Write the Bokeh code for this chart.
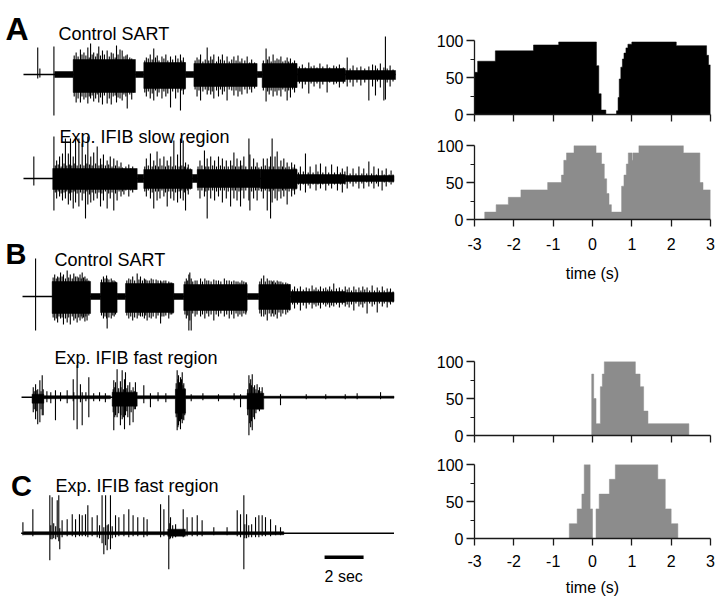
from bokeh.plotting import figure
from bokeh.layouts import row, column
from bokeh.models import Range1d, FixedTicker, Label
from bokeh.embed import file_html
from bokeh.resources import INLINE

FONT = "Liberation Sans"

# ---------------- histogram data (percent of cycles active vs time) ----------------
time_ticks = [-3, -2, -1, 0, 1, 2, 3]
time_tick_labels = ["-3", "-2", "-1", "0", "1", "2", "3"]
pct_ticks = [0, 50, 100]
pct_minor = [25, 75]

hA1_edges = [-3.0, -2.92, -2.47, -1.50, -0.86, 0.10, 0.16, 0.22, 0.34, 0.61, 0.65, 0.68,
             0.72, 0.76, 0.80, 0.85, 0.90, 1.00, 2.13, 2.90, 2.95, 3.0]
hA1_pct = [57, 72, 86, 94, 98, 66, 28, 6, 0, 5, 23, 48, 64, 75, 83, 90, 95, 98, 93, 80, 67]

hA2_edges = [-3.0, -2.74, -2.45, -2.14, -1.82, -1.14, -0.79, -0.73, -0.66, -0.47, 0.09, 0.23,
             0.30, 0.36, 0.42, 0.48, 0.74, 0.80, 0.86, 0.91, 1.01, 1.03, 1.18, 2.31, 2.73,
             2.81, 3.0]
hA2_pct = [0, 10, 20, 30, 40, 50, 60, 80, 90, 100, 90, 75, 55, 35, 20, 10, 45, 60, 75, 90,
           80, 90, 100, 90, 50, 40]

hB_edges = [-3.0, -0.02, 0.03, 0.09, 0.20, 0.25, 0.30, 1.09, 1.21, 1.30, 1.41, 2.45, 3.0]
hB_pct = [0, 83, 50, 16, 66, 83, 100, 83, 66, 33, 16, 0]

hC_edges = [-3.0, -0.59, -0.39, -0.27, -0.21, -0.06, 0.0, 0.09, 0.17, 0.43, 0.58, 1.66,
            1.85, 2.00, 2.17, 3.0]
hC_pct = [0, 20, 40, 60, 100, 40, 0, 40, 60, 80, 100, 80, 40, 20, 0]

# ---------------- trace data (time s, amplitude up / down in display units) ----------------
# bursts: (start, end, core up, core down); spikes / fill: (time, up, down)
a1_span = [0.0, 19.08]
a1_bursts = [(1.6, 2.55, 3, 3), (2.55, 5.74, 15, 18), (5.74, 6.17, 3, 3), (6.17, 8.31, 12, 14),
             (8.31, 8.74, 3, 3), (8.74, 11.98, 11, 12), (11.98, 12.24, 3, 3),
             (12.24, 14.03, 11, 13), (14.03, 16.5, 6, 7), (16.5, 19.08, 4, 5)]
a1_spikes = [(0.73, 27, 4), (0.84, 6, 3), (1.56, 28, 41), (2.7, 22, 28), (2.92, 25, 28),
             (3.1, 22, 25), (3.30, 27, 29), (3.44, 31, 24), (3.6, 22, 27), (3.86, 28, 28),
             (4.05, 24, 30), (4.29, 24, 29), (4.5, 22, 30), (4.77, 29, 28), (4.95, 25, 24),
             (5.06, 24, 26), (5.32, 20, 34), (5.55, 16, 25), (6.3, 17, 22), (6.5, 20, 24),
             (6.68, 26, 26), (6.86, 19, 22), (7.1, 18, 24), (7.3, 20, 22), (7.54, 18, 33),
             (7.8, 19, 24), (8.05, 20, 36), (8.2, 17, 20), (8.9, 17, 22), (9.08, 20, 26),
             (9.42, 27, 20), (9.6, 18, 20), (9.76, 20, 24), (10.0, 18, 22), (10.2, 20, 20),
             (10.44, 18, 26), (10.79, 18, 21), (11.0, 19, 22), (11.2, 16, 20), (11.47, 18, 19),
             (11.7, 15, 18), (12.44, 26, 27), (12.6, 18, 20), (12.8, 20, 22), (13.0, 16, 21),
             (13.2, 18, 22), (13.52, 17, 26), (13.69, 16, 23), (13.9, 14, 18), (14.3, 10, 14),
             (14.63, 12, 19), (14.9, 9, 12), (15.2, 11, 14), (15.57, 10, 18), (15.91, 9, 10),
             (16.2, 10, 13), (16.6, 17, 12), (16.9, 9, 12), (17.3, 8, 11), (17.71, 8, 26),
             (17.9, 10, 12), (18.05, 9, 21), (18.3, 11, 13), (18.48, 7, 26), (18.56, 38, 25),
             (18.8, 9, 12)]
a1_fill = [(2.6, 19, 22), (2.8, 18, 24), (3.0, 20, 22), (3.2, 19, 23), (3.37, 17, 22),
           (3.52, 20, 21), (3.7, 18, 24), (3.78, 21, 20), (3.95, 19, 23), (4.15, 20, 21),
           (4.4, 18, 24), (4.6, 21, 22), (4.7, 17, 21), (4.85, 20, 23), (5.15, 18, 20),
           (5.25, 19, 22), (5.45, 17, 20), (5.65, 14, 18), (6.22, 14, 18), (6.4, 16, 17),
           (6.6, 15, 19), (6.77, 17, 16), (6.95, 14, 18), (7.2, 16, 17), (7.4, 14, 19),
           (7.65, 15, 17), (7.92, 16, 18), (8.12, 14, 16), (8.27, 12, 15), (8.8, 14, 15),
           (9.0, 15, 16), (9.2, 13, 17), (9.32, 15, 15), (9.5, 14, 16), (9.68, 15, 17),
           (9.9, 13, 16), (10.1, 15, 15), (10.3, 14, 17), (10.55, 13, 15), (10.68, 15, 16),
           (10.9, 14, 16), (11.1, 13, 17), (11.35, 14, 15), (11.6, 12, 15), (11.85, 12, 14),
           (12.3, 14, 16), (12.52, 15, 17), (12.7, 13, 16), (12.9, 14, 17), (13.1, 15, 16),
           (13.3, 13, 15), (13.42, 14, 17), (13.6, 13, 16), (13.8, 12, 15), (13.97, 11, 13),
           (14.15, 8, 9), (14.45, 7, 10), (14.75, 8, 9), (15.05, 7, 9), (15.35, 8, 10),
           (15.7, 7, 8), (16.05, 8, 9), (16.4, 7, 9), (16.75, 6, 8), (17.1, 7, 8),
           (17.5, 6, 8), (18.15, 6, 7), (18.65, 6, 8), (18.95, 5, 7)]

a2_span = [0.0, 19.0]
a2_bursts = [(1.5, 5.83, 10, 11), (5.83, 6.17, 4, 4), (6.17, 8.65, 9, 10), (8.65, 8.91, 4, 4),
             (8.91, 12.15, 9, 9), (12.15, 14.03, 9, 10), (14.03, 16.5, 4, 5),
             (16.5, 19.0, 3, 3)]
a2_spikes = [(0.53, 22, 7), (1.56, 42, 32), (1.7, 18, 20), (1.85, 22, 18), (2.0, 25, 22),
             (2.15, 40, 20), (2.3, 25, 26), (2.41, 40, 22), (2.55, 22, 30), (2.67, 42, 24),
             (2.84, 40, 28), (3.01, 35, 22), (3.18, 24, 40), (3.30, 42, 26), (3.45, 22, 24),
             (3.6, 26, 22), (3.78, 32, 20), (3.95, 20, 28), (4.1, 24, 22), (4.29, 18, 30),
             (4.45, 22, 20), (4.63, 20, 32), (4.8, 18, 22), (5.0, 16, 18), (5.15, 10, 16),
             (5.4, 14, 18), (5.6, 12, 14), (6.3, 20, 18), (6.51, 25, 20), (6.68, 18, 30),
             (6.85, 27, 22), (7.0, 20, 20), (7.2, 22, 18), (7.37, 18, 28), (7.55, 22, 20),
             (7.71, 38, 22), (7.9, 24, 24), (8.05, 40, 20), (8.19, 38, 22), (8.31, 16, 32),
             (8.45, 14, 16), (9.05, 18, 20), (9.28, 28, 18), (9.42, 20, 40), (9.6, 22, 20),
             (9.8, 18, 22), (10.0, 22, 18), (10.2, 20, 24), (10.4, 18, 20), (10.62, 18, 28),
             (10.79, 26, 20), (10.95, 20, 22), (11.13, 18, 28), (11.3, 22, 20),
             (11.56, 40, 22), (11.61, 24, 32), (11.8, 20, 20), (11.98, 16, 22), (12.3, 20, 20),
             (12.50, 20, 32), (12.67, 22, 40), (12.75, 40, 24), (12.9, 22, 20), (13.01, 27, 22),
             (13.2, 18, 20), (13.35, 20, 18), (13.52, 16, 26), (13.75, 16, 18), (13.9, 14, 16),
             (14.2, 12, 12), (14.46, 25, 14), (14.7, 12, 10), (15.0, 14, 12), (15.23, 15, 10),
             (15.5, 12, 12), (15.8, 14, 10), (16.1, 12, 12), (16.35, 10, 14), (16.6, 12, 10),
             (16.9, 10, 8), (17.2, 12, 10), (17.45, 10, 10), (17.71, 17, 8), (17.97, 12, 10),
             (18.2, 10, 8), (18.39, 8, 12), (18.6, 10, 8), (18.85, 8, 6)]
a2_fill = [(1.63, 13, 14), (1.78, 14, 13), (1.93, 12, 15), (2.08, 15, 14), (2.22, 13, 13),
           (2.35, 14, 15), (2.48, 13, 14), (2.6, 15, 13), (2.75, 13, 15), (2.92, 14, 14),
           (3.1, 13, 15), (3.25, 15, 13), (3.38, 14, 16), (3.52, 13, 14), (3.7, 15, 15),
           (3.87, 13, 14), (4.02, 14, 15), (4.2, 13, 13), (4.37, 14, 15), (4.54, 12, 14),
           (4.72, 13, 15), (4.9, 12, 13), (5.07, 11, 13), (5.25, 12, 12), (5.5, 10, 12),
           (5.72, 9, 11), (6.22, 12, 13), (6.4, 13, 12), (6.6, 12, 14), (6.77, 13, 13),
           (6.93, 12, 13), (7.1, 13, 12), (7.28, 12, 14), (7.45, 13, 13), (7.63, 12, 13),
           (7.8, 13, 14), (7.98, 12, 13), (8.12, 13, 12), (8.25, 12, 14), (8.4, 11, 12),
           (8.55, 10, 11), (8.95, 12, 12), (9.15, 13, 12), (9.35, 12, 13), (9.5, 12, 12),
           (9.7, 13, 12), (9.9, 12, 13), (10.1, 13, 12), (10.3, 12, 12), (10.5, 12, 13),
           (10.7, 13, 12), (10.87, 12, 12), (11.05, 12, 13), (11.2, 13, 12), (11.4, 12, 12),
           (11.7, 12, 13), (11.9, 12, 12), (12.07, 11, 12), (12.2, 12, 13), (12.4, 13, 12),
           (12.6, 12, 13), (12.83, 12, 12), (13.1, 12, 13), (13.28, 12, 12), (13.45, 11, 12),
           (13.62, 12, 13), (13.82, 11, 12), (13.97, 10, 11), (14.1, 6, 6), (14.35, 7, 6),
           (14.6, 6, 7), (14.85, 6, 6), (15.1, 7, 6), (15.35, 6, 6), (15.65, 6, 7),
           (15.95, 6, 6), (16.25, 6, 6), (16.48, 7, 6), (16.75, 5, 5), (17.05, 5, 5),
           (17.35, 5, 5), (17.6, 5, 4), (17.85, 5, 5), (18.1, 4, 5), (18.5, 4, 4),
           (18.75, 4, 4), (18.95, 4, 4)]

b1_span = [-0.05, 19.0]
b1_bursts = [(1.47, 3.44, 15, 17), (3.44, 3.95, 3, 3), (3.95, 4.80, 14, 16), (4.80, 5.23, 3, 3),
             (5.23, 7.71, 13, 16), (7.71, 8.22, 3, 3), (8.22, 11.47, 12, 14),
             (11.47, 12.07, 3, 3), (12.07, 13.69, 12, 13), (13.69, 16.5, 5, 6),
             (16.5, 19.0, 4, 5)]
b1_spikes = [(0.62, 38, 34), (1.6, 22, 24), (1.75, 20, 26), (1.90, 24, 22), (2.05, 22, 28),
             (2.24, 26, 26), (2.4, 22, 28), (2.58, 23, 24), (2.75, 20, 26), (2.9, 22, 24),
             (3.01, 24, 22), (3.15, 20, 25), (3.26, 18, 24), (4.1, 20, 22), (4.26, 21, 22),
             (4.29, 18, 32), (4.5, 18, 22), (4.65, 16, 20), (5.4, 18, 22), (5.6, 20, 24),
             (5.83, 23, 22), (6.00, 20, 20), (6.2, 18, 22), (6.34, 16, 24), (6.55, 18, 22),
             (6.8, 17, 22), (7.03, 16, 27), (7.20, 16, 20), (7.45, 15, 22), (7.6, 14, 18),
             (8.35, 18, 22), (8.48, 22, 34), (8.53, 24, 24), (8.60, 18, 34), (8.8, 16, 20),
             (9.08, 18, 20), (9.3, 18, 22), (9.5, 16, 20), (9.76, 17, 24), (10.0, 16, 20),
             (10.3, 18, 20), (10.55, 16, 22), (10.79, 16, 22), (11.0, 15, 20), (11.2, 16, 20),
             (11.4, 14, 18), (12.2, 18, 20), (12.32, 21, 20), (12.50, 18, 24), (12.7, 16, 20),
             (12.84, 16, 20), (13.01, 16, 22), (13.2, 15, 20), (13.45, 14, 18), (13.9, 10, 12),
             (14.2, 10, 14), (14.5, 9, 12), (14.8, 11, 12), (15.0, 9, 10), (15.23, 10, 12),
             (15.5, 9, 10), (15.7, 10, 11), (15.91, 13, 10), (16.2, 9, 11), (16.5, 10, 10),
             (16.7, 9, 11), (16.94, 10, 14), (17.2, 9, 10), (17.4, 10, 11), (17.62, 9, 17),
             (17.88, 11, 10), (18.14, 9, 16), (18.4, 10, 10), (18.65, 8, 11), (18.82, 8, 8)]
b1_fill = [(1.52, 19, 21), (1.68, 18, 22), (1.82, 19, 20), (1.98, 20, 21), (2.15, 18, 22),
           (2.32, 19, 21), (2.5, 18, 20), (2.66, 20, 22), (2.83, 19, 21), (2.96, 18, 20),
           (3.08, 19, 21), (3.2, 17, 20), (3.35, 16, 19), (4.0, 17, 19), (4.18, 18, 20),
           (4.38, 17, 21), (4.58, 16, 19), (4.72, 15, 18), (5.3, 16, 19), (5.5, 17, 20),
           (5.7, 16, 21), (5.92, 17, 19), (6.1, 16, 20), (6.27, 17, 19), (6.45, 16, 21),
           (6.65, 17, 20), (6.9, 16, 19), (7.1, 15, 20), (7.3, 16, 19), (7.52, 14, 18),
           (7.66, 13, 17), (8.28, 15, 18), (8.42, 16, 19), (8.68, 15, 17), (8.9, 16, 18),
           (9.18, 15, 18), (9.4, 16, 17), (9.62, 15, 18), (9.88, 16, 18), (10.12, 15, 17),
           (10.42, 16, 18), (10.67, 15, 18), (10.9, 15, 17), (11.1, 14, 18), (11.3, 15, 17),
           (11.42, 14, 16), (12.12, 15, 17), (12.4, 15, 18), (12.6, 16, 17), (12.77, 15, 17),
           (12.92, 14, 18), (13.1, 15, 16), (13.3, 14, 17), (13.55, 13, 16), (13.65, 12, 14),
           (13.8, 7, 8), (14.05, 8, 8), (14.35, 7, 9), (14.65, 8, 8), (14.9, 7, 8),
           (15.12, 7, 9), (15.38, 8, 8), (15.6, 7, 8), (15.8, 7, 9), (16.05, 8, 8),
           (16.35, 7, 8), (16.6, 7, 8), (16.82, 6, 8), (17.05, 7, 7), (17.3, 6, 8),
           (17.5, 7, 7), (17.75, 6, 7), (18.0, 6, 8), (18.25, 6, 7), (18.5, 6, 7),
           (18.75, 5, 6), (18.95, 5, 6)]

b2_span = [-0.1, 19.0]
b2_bursts = [(0.44, 1.04, 3, 6), (1.04, 4.46, 1.5, 1.5), (4.55, 5.83, 5, 9), (5.83, 7.79, 1.5, 1.5),
             (7.79, 8.31, 8, 16), (8.31, 11.47, 1.5, 1.5), (11.47, 12.32, 4, 12),
             (12.32, 19.0, 1, 1)]
b2_spikes = [(0.5, 10, 15), (0.62, 13, 22), (0.73, 8, 27), (0.84, 17, 25), (0.96, 22, 18),
             (1.01, 8, 18), (1.2, 6, 5), (1.4, 5, 6), (1.64, 7, 23), (1.9, 5, 4), (2.24, 7, 6),
             (2.55, 18, 4), (2.58, 5, 23), (2.75, 32, 32), (2.92, 13, 5), (3.01, 5, 28),
             (3.2, 5, 4), (3.35, 20, 20), (3.6, 4, 4), (3.9, 5, 4), (4.2, 4, 5), (4.63, 17, 33),
             (4.72, 15, 18), (4.80, 28, 20), (4.97, 16, 28), (5.06, 27, 22), (5.18, 18, 32),
             (5.23, 25, 18), (5.35, 12, 20), (5.45, 15, 28), (5.62, 10, 25), (5.74, 15, 12),
             (6.17, 12, 6), (6.51, 4, 10), (6.9, 5, 4), (7.3, 4, 5), (7.88, 27, 33),
             (7.95, 22, 28), (8.05, 20, 32), (8.14, 25, 26), (8.22, 14, 23), (8.6, 3, 4),
             (9.2, 4, 3), (10.0, 3, 4), (10.8, 4, 3), (11.13, 3, 10), (11.56, 22, 38),
             (11.65, 18, 30), (11.73, 23, 33), (11.85, 12, 22), (11.98, 13, 12),
             (12.1, 10, 14), (12.24, 10, 6), (13.18, 3, 8), (14.5, 3, 2), (15.5, 3, 2),
             (16.5, 3, 2), (17.11, 4, 2), (18.31, 5, 2)]
b2_fill = [(0.55, 6, 12), (0.68, 7, 14), (0.9, 6, 12), (4.6, 8, 15), (4.68, 10, 20),
           (4.88, 9, 16), (5.0, 10, 18), (5.12, 8, 20), (5.3, 9, 14), (5.52, 7, 15),
           (5.68, 6, 12), (7.83, 14, 20), (7.92, 18, 30), (8.0, 15, 24), (8.1, 18, 22),
           (8.18, 12, 22), (8.27, 9, 18), (11.5, 8, 18), (11.6, 14, 26), (11.69, 12, 24),
           (11.78, 10, 20), (11.92, 8, 16), (12.05, 7, 12), (12.18, 6, 10)]

c_span = [-0.12, 19.0]
c_bursts = [(0.0, 13.35, 1.5, 1.5), (7.4, 8.3, 4, 3)]
c_spikes = [(-0.03, 11, 2), (0.48, 24, 3), (1.35, 38, 27), (1.47, 36, 6), (1.73, 33, 4),
            (1.81, 38, 8), (1.86, 5, 16), (1.98, 13, 4), (2.24, 14, 3), (2.50, 19, 3),
            (2.67, 14, 4), (2.87, 19, 3), (3.01, 18, 3), (3.18, 19, 3), (3.30, 28, 4),
            (3.52, 16, 3), (3.78, 18, 4), (4.03, 38, 10), (4.12, 6, 21), (4.21, 38, 12),
            (4.29, 8, 17), (4.46, 38, 16), (4.72, 18, 4), (4.89, 16, 3), (5.15, 19, 3),
            (5.40, 24, 4), (5.62, 18, 3), (5.86, 16, 3), (6.17, 16, 4), (6.34, 14, 3),
            (7.03, 29, 4), (7.20, 24, 3), (7.45, 38, 36), (7.54, 16, 5), (8.19, 24, 4),
            (8.39, 16, 3), (8.65, 16, 3), (8.91, 18, 3), (9.16, 13, 3), (9.76, 6, 2),
            (10.44, 6, 2), (10.96, 23, 3), (11.13, 19, 4), (11.30, 38, 36), (11.44, 19, 5),
            (11.90, 16, 4), (12.07, 18, 4), (12.24, 18, 3), (12.41, 16, 3), (12.67, 14, 3),
            (12.93, 8, 2), (13.18, 6, 2)]
c_fill = [(1.4, 8, 6), (1.55, 10, 5), (1.65, 7, 6), (3.9, 8, 5), (4.35, 9, 6), (4.55, 7, 5),
          (7.5, 10, 6), (7.65, 8, 5), (7.8, 9, 4), (11.35, 9, 5), (11.55, 8, 4), (11.7, 9, 4)]

scale_bar_sec = 2

# ---------------- left panel: traces ----------------
left = figure(width=406, height=602, x_range=Range1d(-1.179, 19.641), y_range=Range1d(-602, 0),
              x_axis_type=None, y_axis_type=None, output_backend="svg", toolbar_location=None,
              min_border=0, outline_line_color=None)
left.grid.visible = False


def draw_spikes(p, spikes, base):
    p.segment(x0=[s[0] for s in spikes], x1=[s[0] for s in spikes],
              y0=[base - s[2] for s in spikes], y1=[base + s[1] for s in spikes],
              line_color="black", line_width=1.1)


def draw_trace(p, span, bursts, spikes, fill, base):
    p.line(x=span, y=[base, base], line_color="black", line_width=1.6)
    p.quad(left=[b[0] for b in bursts], right=[b[1] for b in bursts],
           top=[base + b[2] for b in bursts], bottom=[base - b[3] for b in bursts],
           fill_color="black", line_color="black", line_width=0.5)
    draw_spikes(p, fill, base)
    draw_spikes(p, spikes, base)


draw_trace(left, a1_span, a1_bursts, a1_spikes, a1_fill, -74)
draw_trace(left, a2_span, a2_bursts, a2_spikes, a2_fill, -178)
draw_trace(left, b1_span, b1_bursts, b1_spikes, b1_fill, -296)
draw_trace(left, b2_span, b2_bursts, b2_spikes, b2_fill, -396.7)
draw_trace(left, c_span, c_bursts, c_spikes, c_fill, -532.7)

# scale bar
left.line(x=[15.44, 15.44 + scale_bar_sec], y=[-556.7, -556.7], line_color="black",
          line_width=3.5)


def add_label(p, x, y, text, size, bold=False):
    p.add_layout(Label(x=x, y=y, text=text, text_font=FONT, text_font_size=size,
                       text_font_style="bold" if bold else "normal", text_color="black",
                       text_baseline="alphabetic", text_align="left"))


add_label(left, -0.92, -28, "A", "32px", True)
add_label(left, 1.795, -33, "Control SART", "18px")
add_label(left, 1.846, -136, "Exp. IFIB slow region", "18px")
add_label(left, -0.92, -253, "B", "29px", True)
add_label(left, 1.59, -259, "Control SART", "18px")
add_label(left, 1.59, -357, "Exp. IFIB fast region", "18px")
add_label(left, -0.64, -485, "C", "29px", True)
add_label(left, 1.64, -485, "Exp. IFIB fast region", "18px")
add_label(left, 15.44, -576, "2 sec", "16px")


# ---------------- right panels: histograms ----------------
def hist_fig(edges, pct, color, labels, height, top, bottom, tick_sd=11, label_sd=12):
    p = figure(width=312, height=height, x_range=Range1d(-3, 3), y_range=Range1d(0, 100),
               output_backend="svg", toolbar_location=None, min_border_left=68,
               min_border_right=8, min_border_top=top, min_border_bottom=bottom,
               outline_line_color=None)
    p.grid.visible = False
    xs, ys = [edges[0]], [0]
    for i, h in enumerate(pct):
        xs += [edges[i], edges[i + 1]]
        ys += [h, h]
    xs.append(edges[-1])
    ys.append(0)
    p.patch(x=xs, y=ys, fill_color=color, line_color=color, line_width=0.5)

    for ax in (p.xaxis, p.yaxis):
        ax.axis_line_color = "#1a1a1a"
        ax.axis_line_width = 1.3
        ax.major_tick_line_color = "#1a1a1a"
        ax.major_tick_line_width = 1.3
        ax.major_tick_in = 0
        ax.major_label_text_font = FONT
        ax.major_label_text_color = "black"
    p.xaxis.ticker = FixedTicker(ticks=time_ticks)
    p.xaxis.major_tick_out = 7
    p.xaxis.minor_tick_out = 0
    p.yaxis.ticker = FixedTicker(ticks=pct_ticks, minor_ticks=pct_minor)
    p.yaxis.major_tick_out = 8
    p.yaxis.minor_tick_out = 4
    p.yaxis.minor_tick_in = 0
    p.yaxis.minor_tick_line_color = "#1a1a1a"
    p.yaxis.minor_tick_line_width = 1.2
    p.yaxis.major_label_text_font_size = "16px"
    p.yaxis.major_label_standoff = 3
    if labels:
        p.xaxis.major_label_overrides = dict(zip(time_ticks, time_tick_labels))
        p.xaxis.major_label_text_font_size = "16px"
        p.xaxis.major_label_standoff = tick_sd
        p.xaxis.axis_label = "time (s)"
        p.xaxis.axis_label_text_font = FONT
        p.xaxis.axis_label_text_font_size = "16px"
        p.xaxis.axis_label_text_font_style = "normal"
        p.xaxis.axis_label_text_color = "black"
        p.xaxis.axis_label_standoff = label_sd
    else:
        p.xaxis.major_label_text_color = None
        p.xaxis.major_label_text_font_size = "0px"
        p.xaxis.major_label_standoff = 0
    return p


h1 = hist_fig(hA1_edges, hA1_pct, "black", False, 128, 40, 14)
h2 = hist_fig(hA2_edges, hA2_pct, "#8c8c8c", True, 161, 17, 70)
h3 = hist_fig(hB_edges, hB_pct, "#8c8c8c", False, 157, 72, 11)
h4 = hist_fig(hC_edges, hC_pct, "#8c8c8c", True, 156, 18, 64, tick_sd=9, label_sd=9)

layout = row(left, column(h1, h2, h3, h4))

open("out.html", "w").write(file_html(layout, INLINE))
